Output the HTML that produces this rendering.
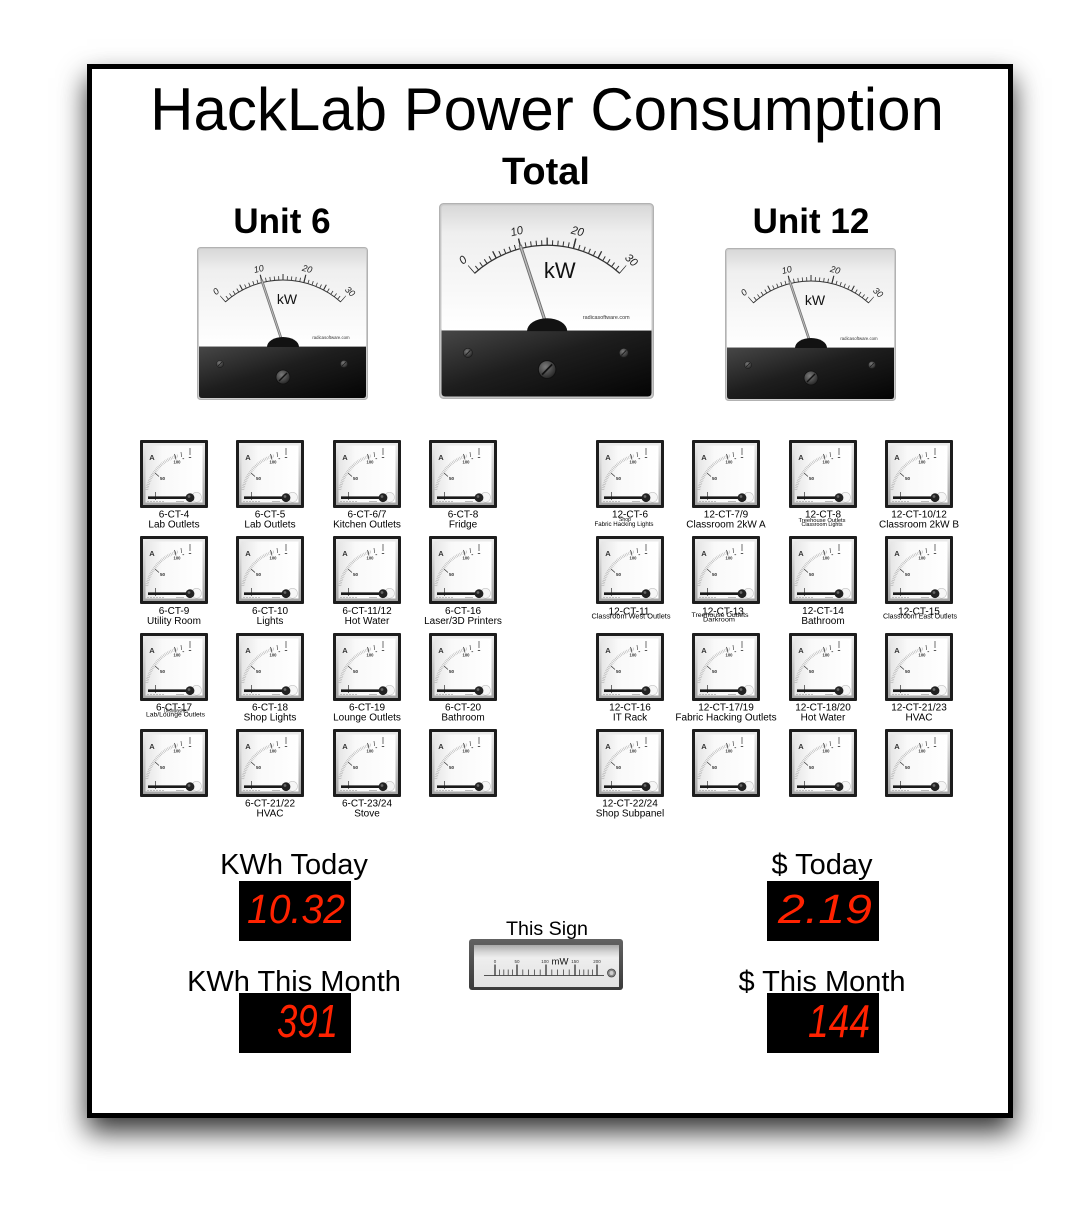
<!DOCTYPE html>
<html><head><meta charset="utf-8"><title>HackLab Power Consumption</title>
<style>
html,body{margin:0;padding:0;background:#fff;}
body{width:1091px;height:1221px;position:relative;overflow:hidden;}
#frame{position:absolute;left:87px;top:64px;width:916px;height:1044px;border:5px solid #000;background:#fff;box-shadow:0 14px 26px rgba(0,0,0,0.8);}
#main{position:absolute;left:0;top:0;}
text{font-family:"Liberation Sans",Arial,Helvetica,sans-serif;}
.l{font-size:10px;text-anchor:middle;fill:#000;}
.s{text-anchor:middle;fill:#000;}
</style></head>
<body>
<div id="frame"></div>
<svg id="main" width="1091" height="1221" viewBox="0 0 1091 1221" xmlns="http://www.w3.org/2000/svg">
<defs>
 <linearGradient id="bmFace" x1="0" y1="0" x2="0" y2="1">
  <stop offset="0" stop-color="#d8d8d8"/><stop offset="0.22" stop-color="#efefef"/><stop offset="1" stop-color="#ffffff"/>
 </linearGradient>
 <linearGradient id="bmPanel" x1="0" y1="0" x2="1" y2="1">
  <stop offset="0" stop-color="#474747"/><stop offset="0.45" stop-color="#1e1e1e"/><stop offset="1" stop-color="#040404"/>
 </linearGradient>
 <radialGradient id="screw" cx="0.4" cy="0.35" r="0.7">
  <stop offset="0" stop-color="#7a7a7a"/><stop offset="1" stop-color="#222"/>
 </radialGradient>
 <linearGradient id="smBez" x1="0" y1="0" x2="0" y2="1">
  <stop offset="0" stop-color="#ececec"/><stop offset="1" stop-color="#a5a5a5"/>
 </linearGradient>
 <linearGradient id="smFace" x1="0" y1="0" x2="1" y2="0">
  <stop offset="0" stop-color="#e6e6e6"/><stop offset="0.3" stop-color="#f9f9f9"/><stop offset="1" stop-color="#ffffff"/>
 </linearGradient>
 <linearGradient id="signFrame" x1="0" y1="0" x2="0" y2="1">
  <stop offset="0" stop-color="#626262"/><stop offset="1" stop-color="#3a3a3a"/>
 </linearGradient>
 <linearGradient id="signFace" x1="0" y1="0" x2="0" y2="1">
  <stop offset="0" stop-color="#a9a9a9"/><stop offset="0.17" stop-color="#d6d6d6"/><stop offset="0.3" stop-color="#eeeeee"/><stop offset="1" stop-color="#e2e2e2"/>
 </linearGradient>

 <symbol id="bm" viewBox="0 0 171 153">
  <rect x="0.5" y="0.5" width="170" height="152" rx="3" fill="#cdcdcd" stroke="#b2b2b2"/>
  <rect x="2" y="2" width="167" height="98" rx="2" fill="url(#bmFace)"/>
  <path d="M2 99.5 H169 V148 Q169 151 166 151 H5 Q2 151 2 148 Z" fill="url(#bmPanel)"/>
  <line x1="2" y1="99.6" x2="169" y2="99.6" stroke="#8a8a8a" stroke-width="0.7"/>
  <path d="M28.24 54.94 A87 87 0 0 1 143.76 54.94" fill="none" stroke="#333" stroke-width="1"/>
  <path d="M26.91 53.45 A89 89 0 0 1 145.09 53.45" fill="none" stroke="#333" stroke-width="4" stroke-dasharray="0.8 3.508" stroke-dashoffset="0.4"/>
  <path d="M26.25 52.70 A90 90 0 0 1 145.75 52.70" fill="none" stroke="#333" stroke-width="6" stroke-dasharray="1 20.78" stroke-dashoffset="0.5"/>
  <path d="M25.59 51.95 A91 91 0 0 1 146.41 51.95" fill="none" stroke="#333" stroke-width="8" stroke-dasharray="1.1 42.95" stroke-dashoffset="0.55"/>
  <line x1="86" y1="97" x2="64.8" y2="33.5" stroke="#6f6f6f" stroke-width="2.6" stroke-linecap="round"/>
  <line x1="86" y1="97" x2="64.8" y2="33.5" stroke="#bcbcbc" stroke-width="1.1"/>
  <path d="M70 100 A16 10 0 0 1 102 100 Z" fill="#121212"/>
  <circle cx="23" cy="117" r="3.6" fill="url(#screw)" stroke="#1a1a1a" stroke-width="0.5"/>
  <line x1="21" y1="119" x2="25" y2="115" stroke="#1a1a1a" stroke-width="0.8"/>
  <circle cx="147" cy="117" r="3.6" fill="url(#screw)" stroke="#1a1a1a" stroke-width="0.5"/>
  <line x1="145" y1="119" x2="149" y2="115" stroke="#1a1a1a" stroke-width="0.8"/>
  <circle cx="86" cy="130" r="7" fill="url(#screw)" stroke="#111" stroke-width="0.8"/>
  <line x1="82" y1="134" x2="90" y2="126" stroke="#111" stroke-width="1.4"/>
 </symbol>

 <symbol id="sm" viewBox="0 0 68 68">
  <rect x="0" y="0" width="68" height="68" rx="1" fill="#1d1d1d"/>
  <rect x="3" y="3" width="62" height="62" fill="url(#smBez)"/>
  <rect x="5.5" y="5.5" width="57" height="57" fill="url(#smFace)"/>
  <path d="M6.81 49.6 A44 44 0 0 1 38.6 15.5" fill="none" stroke="#a8a8a8" stroke-width="3" stroke-dasharray="0.5 1.2"/>
  <line x1="15" y1="33" x2="19" y2="36.5" stroke="#333" stroke-width="0.7"/>
  <text x="22.5" y="39.8" font-size="4.6" font-weight="bold" fill="#333" text-anchor="middle">50</text>
  <line x1="34.5" y1="14" x2="36" y2="19.5" stroke="#333" stroke-width="0.7"/>
  <text x="37" y="23.5" font-size="4.2" font-weight="bold" fill="#333" text-anchor="middle">100</text>
  <line x1="41" y1="12" x2="41.6" y2="17" stroke="#333" stroke-width="0.6"/>
  <line x1="50" y1="8" x2="50" y2="15" stroke="#333" stroke-width="0.7"/>
  <rect x="48.8" y="17" width="2.4" height="1" fill="#555"/>
  <rect x="42.5" y="18.2" width="1.6" height="0.9" fill="#555"/>
  <text x="12" y="20" font-size="7.5" font-weight="bold" fill="#333" text-anchor="middle">A</text>
  <line x1="15.5" y1="52" x2="15.5" y2="60" stroke="#333" stroke-width="0.7"/>
  <line x1="8" y1="57.7" x2="50" y2="57.7" stroke="#1a1a1a" stroke-width="2.6"/>
  <circle cx="56.5" cy="57.3" r="5" fill="#f6f6f6" stroke="#c4c4c4" stroke-width="0.6"/>
  <circle cx="50" cy="57.7" r="4.4" fill="#222"/>
  <circle cx="49" cy="56.5" r="1.4" fill="#666"/>
  <line x1="7" y1="61.6" x2="25" y2="61.6" stroke="#aaa" stroke-width="0.8" stroke-dasharray="2 1"/>
  <line x1="36" y1="61.6" x2="44" y2="61.6" stroke="#aaa" stroke-width="0.8"/>
 </symbol>
</defs>

<!-- Headings -->
<text x="547" y="130" font-size="60" text-anchor="middle" fill="#000">HackLab Power Consumption</text>
<text x="546" y="184" font-size="38" font-weight="bold" text-anchor="middle" fill="#000">Total</text>
<text x="282" y="233" font-size="35" font-weight="bold" text-anchor="middle" fill="#000">Unit 6</text>
<text x="811" y="233" font-size="35" font-weight="bold" text-anchor="middle" fill="#000">Unit 12</text>

<!-- Unit 6 meter -->
<svg x="197" y="247" width="171" height="153" viewBox="0 0 171 153">
 <use href="#bm" x="0" y="0" width="171" height="153"/>
 <g font-size="9" font-style="italic" fill="#222" text-anchor="middle">
  <text transform="translate(18.95,44.47) rotate(-41.6)" y="3">0</text>
  <text transform="translate(61.79,21.95) rotate(-13.87)" y="3">10</text>
  <text transform="translate(110.21,21.95) rotate(13.87)" y="3">20</text>
  <text transform="translate(153.05,44.47) rotate(41.6)" y="3">30</text>
 </g>
 <text x="90" y="57" font-size="14" text-anchor="middle" fill="#111">kW</text>
 <text x="134" y="92" font-size="4.3" text-anchor="middle" fill="#333">radicasoftware.com</text>
</svg>

<!-- Total meter -->
<svg x="439" y="203" width="215" height="196" viewBox="0 0 171 153" preserveAspectRatio="none">
 <use href="#bm" x="0" y="0" width="171" height="153"/>
 <g font-size="9" font-style="italic" fill="#222" text-anchor="middle">
  <text transform="translate(18.95,44.47) rotate(-41.6)" y="3">0</text>
  <text transform="translate(61.79,21.95) rotate(-13.87)" y="3">10</text>
  <text transform="translate(110.21,21.95) rotate(13.87)" y="3">20</text>
  <text transform="translate(153.05,44.47) rotate(41.6)" y="3">30</text>
 </g>
 <text x="96" y="58.5" font-size="17.5" text-anchor="middle" fill="#111">kW</text>
 <text x="133" y="90.5" font-size="4.3" text-anchor="middle" fill="#333">radicasoftware.com</text>
</svg>

<!-- Unit 12 meter -->
<svg x="725" y="248" width="171" height="153" viewBox="0 0 171 153">
 <use href="#bm" x="0" y="0" width="171" height="153"/>
 <g font-size="9" font-style="italic" fill="#222" text-anchor="middle">
  <text transform="translate(18.95,44.47) rotate(-41.6)" y="3">0</text>
  <text transform="translate(61.79,21.95) rotate(-13.87)" y="3">10</text>
  <text transform="translate(110.21,21.95) rotate(13.87)" y="3">20</text>
  <text transform="translate(153.05,44.47) rotate(41.6)" y="3">30</text>
 </g>
 <text x="90" y="57" font-size="14" text-anchor="middle" fill="#111">kW</text>
 <text x="134" y="92" font-size="4.3" text-anchor="middle" fill="#333">radicasoftware.com</text>
</svg>

<!-- Small meters left -->
<use href="#sm" x="140" y="440" width="68" height="68"/>
<use href="#sm" x="236" y="440" width="68" height="68"/>
<use href="#sm" x="333" y="440" width="68" height="68"/>
<use href="#sm" x="429" y="440" width="68" height="68"/>
<use href="#sm" x="140" y="536" width="68" height="68"/>
<use href="#sm" x="236" y="536" width="68" height="68"/>
<use href="#sm" x="333" y="536" width="68" height="68"/>
<use href="#sm" x="429" y="536" width="68" height="68"/>
<use href="#sm" x="140" y="633" width="68" height="68"/>
<use href="#sm" x="236" y="633" width="68" height="68"/>
<use href="#sm" x="333" y="633" width="68" height="68"/>
<use href="#sm" x="429" y="633" width="68" height="68"/>
<use href="#sm" x="140" y="729" width="68" height="68"/>
<use href="#sm" x="236" y="729" width="68" height="68"/>
<use href="#sm" x="333" y="729" width="68" height="68"/>
<use href="#sm" x="429" y="729" width="68" height="68"/>

<!-- Small meters right -->
<use href="#sm" x="596" y="440" width="68" height="68"/>
<use href="#sm" x="692" y="440" width="68" height="68"/>
<use href="#sm" x="789" y="440" width="68" height="68"/>
<use href="#sm" x="885" y="440" width="68" height="68"/>
<use href="#sm" x="596" y="536" width="68" height="68"/>
<use href="#sm" x="692" y="536" width="68" height="68"/>
<use href="#sm" x="789" y="536" width="68" height="68"/>
<use href="#sm" x="885" y="536" width="68" height="68"/>
<use href="#sm" x="596" y="633" width="68" height="68"/>
<use href="#sm" x="692" y="633" width="68" height="68"/>
<use href="#sm" x="789" y="633" width="68" height="68"/>
<use href="#sm" x="885" y="633" width="68" height="68"/>
<use href="#sm" x="596" y="729" width="68" height="68"/>
<use href="#sm" x="692" y="729" width="68" height="68"/>
<use href="#sm" x="789" y="729" width="68" height="68"/>
<use href="#sm" x="885" y="729" width="68" height="68"/>

<!-- Left labels -->
<text class="l" x="174" y="517.5">6-CT-4</text><text class="l" x="174" y="527.5">Lab Outlets</text>
<text class="l" x="270" y="517.5">6-CT-5</text><text class="l" x="270" y="527.5">Lab Outlets</text>
<text class="l" x="367" y="517.5">6-CT-6/7</text><text class="l" x="367" y="527.5">Kitchen Outlets</text>
<text class="l" x="463" y="517.5">6-CT-8</text><text class="l" x="463" y="527.5">Fridge</text>

<text class="l" x="174" y="614">6-CT-9</text><text class="l" x="174" y="624">Utility Room</text>
<text class="l" x="270" y="614">6-CT-10</text><text class="l" x="270" y="624">Lights</text>
<text class="l" x="367" y="614">6-CT-11/12</text><text class="l" x="367" y="624">Hot Water</text>
<text class="l" x="463" y="614">6-CT-16</text><text class="l" x="463" y="624">Laser/3D Printers</text>

<text class="l" x="174" y="710.5">6-CT-17</text>
<text class="s" x="176" y="712.5" font-size="5" textLength="24" lengthAdjust="spacingAndGlyphs">Dishwasher</text>
<text class="s" x="175.5" y="716.5" font-size="6.3" textLength="59" lengthAdjust="spacingAndGlyphs">Lab/Lounge Outlets</text>
<text class="l" x="270" y="710.5">6-CT-18</text><text class="l" x="270" y="720.5">Shop Lights</text>
<text class="l" x="367" y="710.5">6-CT-19</text><text class="l" x="367" y="720.5">Lounge Outlets</text>
<text class="l" x="463" y="710.5">6-CT-20</text><text class="l" x="463" y="720.5">Bathroom</text>

<text class="l" x="270" y="806.5">6-CT-21/22</text><text class="l" x="270" y="816.5">HVAC</text>
<text class="l" x="367" y="806.5">6-CT-23/24</text><text class="l" x="367" y="816.5">Stove</text>

<!-- Right labels -->
<text class="l" x="630" y="517.5">12-CT-6</text>
<text class="s" x="625" y="520.8" font-size="5.5" textLength="12" lengthAdjust="spacingAndGlyphs">Shop</text>
<text class="s" x="624" y="525.8" font-size="6.3" textLength="59" lengthAdjust="spacingAndGlyphs">Fabric Hacking Lights</text>
<text class="l" x="726" y="517.5">12-CT-7/9</text><text class="l" x="726" y="527.5">Classroom 2kW A</text>
<text class="l" x="823" y="517.5">12-CT-8</text>
<text class="s" x="822" y="521.8" font-size="5.6" textLength="47" lengthAdjust="spacingAndGlyphs">Treehouse Outlets</text>
<text class="s" x="822" y="526" font-size="5.6" textLength="41" lengthAdjust="spacingAndGlyphs">Classroom Lights</text>
<text class="l" x="919" y="517.5">12-CT-10/12</text><text class="l" x="919" y="527.5">Classroom 2kW B</text>

<text class="l" x="629" y="614.5">12-CT-11</text>
<text class="s" x="631" y="618.5" font-size="7" textLength="79" lengthAdjust="spacingAndGlyphs">Classroom West Outlets</text>
<text class="l" x="723" y="614.3">12-CT-13</text>
<text class="s" x="720" y="617.2" font-size="6.5" textLength="57" lengthAdjust="spacingAndGlyphs">Treehouse Outlets</text>
<text class="s" x="719" y="621.3" font-size="6.5" textLength="32" lengthAdjust="spacingAndGlyphs">Darkroom</text>
<text class="l" x="823" y="614">12-CT-14</text><text class="l" x="823" y="624">Bathroom</text>
<text class="l" x="919" y="614.5">12-CT-15</text>
<text class="s" x="920" y="618.5" font-size="7" textLength="74" lengthAdjust="spacingAndGlyphs">Classroom East Outlets</text>

<text class="l" x="630" y="710.5">12-CT-16</text><text class="l" x="630" y="720.5">IT Rack</text>
<text class="l" x="726" y="710.5">12-CT-17/19</text><text class="l" x="726" y="720.5">Fabric Hacking Outlets</text>
<text class="l" x="823" y="710.5">12-CT-18/20</text><text class="l" x="823" y="720.5">Hot Water</text>
<text class="l" x="919" y="710.5">12-CT-21/23</text><text class="l" x="919" y="720.5">HVAC</text>

<text class="l" x="630" y="806.5">12-CT-22/24</text><text class="l" x="630" y="816.5">Shop Subpanel</text>

<!-- Bottom displays -->
<text x="294" y="874" font-size="29" text-anchor="middle" fill="#000">KWh Today</text>
<rect x="239" y="881" width="112" height="60" fill="#000"/>
<text transform="translate(247,923) scale(1,1.42)" font-size="29" font-style="italic" fill="#ff2200" textLength="98" lengthAdjust="spacingAndGlyphs">10.32</text>

<text x="294" y="991" font-size="29" text-anchor="middle" fill="#000">KWh This Month</text>
<rect x="239" y="993" width="112" height="60" fill="#000"/>
<text transform="translate(277,1037) scale(1,1.5)" font-size="31" font-style="italic" fill="#ff2200" textLength="61" lengthAdjust="spacingAndGlyphs">391</text>

<text x="822" y="874" font-size="29" text-anchor="middle" fill="#000">$ Today</text>
<rect x="767" y="881" width="112" height="60" fill="#000"/>
<text transform="translate(778,923) scale(1,1.42)" font-size="29" font-style="italic" fill="#ff2200" textLength="94" lengthAdjust="spacingAndGlyphs">2.19</text>

<text x="822" y="991" font-size="29" text-anchor="middle" fill="#000">$ This Month</text>
<rect x="767" y="993" width="112" height="60" fill="#000"/>
<text transform="translate(808,1037) scale(1,1.5)" font-size="31" font-style="italic" fill="#ff2200" textLength="62" lengthAdjust="spacingAndGlyphs">144</text>

<!-- This Sign -->
<text x="547" y="935" font-size="19" text-anchor="middle" fill="#000" textLength="82" lengthAdjust="spacingAndGlyphs">This Sign</text>
<rect x="469" y="939" width="154" height="51" rx="3" fill="url(#signFrame)"/>
<rect x="474" y="945" width="145" height="42" fill="url(#signFace)"/>
<line x1="484" y1="975.5" x2="604" y2="975.5" stroke="#222" stroke-width="0.8"/>
<g stroke="#333" stroke-width="1.3">
 <line x1="495" y1="964.5" x2="495" y2="975.5"/>
 <line x1="517" y1="964.5" x2="517" y2="975.5"/>
 <line x1="546" y1="964.5" x2="546" y2="975.5"/>
 <line x1="575" y1="964.5" x2="575" y2="975.5"/>
 <line x1="597" y1="964.5" x2="597" y2="975.5"/>
</g>
<g stroke="#444" stroke-width="0.8">
 <line x1="499.4" y1="969.5" x2="499.4" y2="975.5"/>
 <line x1="503.8" y1="969.5" x2="503.8" y2="975.5"/>
 <line x1="508.2" y1="969.5" x2="508.2" y2="975.5"/>
 <line x1="512.6" y1="969.5" x2="512.6" y2="975.5"/>
 <line x1="522.8" y1="969.5" x2="522.8" y2="975.5"/>
 <line x1="528.6" y1="969.5" x2="528.6" y2="975.5"/>
 <line x1="534.4" y1="969.5" x2="534.4" y2="975.5"/>
 <line x1="540.2" y1="969.5" x2="540.2" y2="975.5"/>
 <line x1="551.8" y1="969.5" x2="551.8" y2="975.5"/>
 <line x1="557.6" y1="969.5" x2="557.6" y2="975.5"/>
 <line x1="563.4" y1="969.5" x2="563.4" y2="975.5"/>
 <line x1="569.2" y1="969.5" x2="569.2" y2="975.5"/>
 <line x1="579.4" y1="969.5" x2="579.4" y2="975.5"/>
 <line x1="583.8" y1="969.5" x2="583.8" y2="975.5"/>
 <line x1="588.2" y1="969.5" x2="588.2" y2="975.5"/>
 <line x1="592.6" y1="969.5" x2="592.6" y2="975.5"/>
</g>
<g font-size="4.5" fill="#333" text-anchor="middle">
 <text x="495" y="963">0</text>
 <text x="517" y="963">50</text>
 <text x="545" y="963">100</text>
 <text x="575" y="963">150</text>
 <text x="597" y="963">200</text>
</g>
<text x="560" y="964.5" font-size="9.5" text-anchor="middle" fill="#111">mW</text>
<circle cx="611.5" cy="973" r="4" fill="#8a8a8a" stroke="#444" stroke-width="0.8"/>
<circle cx="611.5" cy="973" r="2" fill="#cfcfcf"/>
</svg>
</body></html>
